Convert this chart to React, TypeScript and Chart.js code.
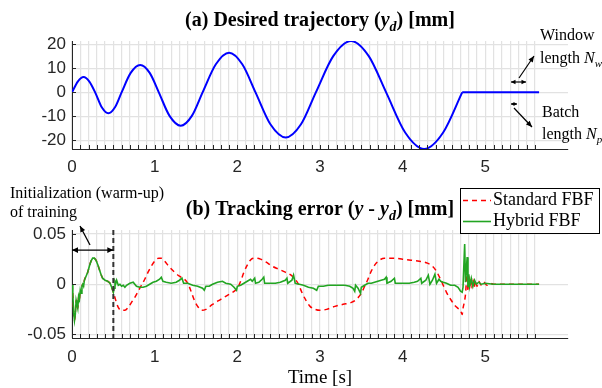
import { useEffect, useRef } from 'react';
import { Chart, registerables } from 'chart.js';
Chart.register(...registerables);

// ---------- data ----------
// (a) desired trajectory [s, mm]
const trajectory: [number, number][] = [
  [0, 0], [0.07, 4.5], [0.14, 6.4], [0.21, 4.5], [0.28, 0],
  [0.36, -6.2], [0.44, -8.7], [0.52, -6.2], [0.6, 0],
  [0.71, 8.1], [0.825, 11.4], [0.94, 8.1], [1.05, 0],
  [1.18, -9.8], [1.315, -13.9], [1.45, -9.8], [1.58, 0],
  [1.74, 11.7], [1.9, 16.5], [2.06, 11.7], [2.22, 0],
  [2.4, -13.3], [2.585, -18.8], [2.77, -13.3], [2.95, 0],
  [3.16, 15.1], [3.375, 21.4], [3.59, 15.1], [3.8, 0],
  [4.03, -16.7], [4.26, -23.6], [4.49, -16.7], [4.72, 0],
];
const plateau: [number, number][] = [[4.72, 0], [5.65, 0]];

// (b) tracking error [s, mm]; warm-up part shared by both methods
const warmupErr: [number, number][] = [
  [0, 0], [0.01, -0.01], [0.02, -0.028], [0.03, -0.036], [0.04, -0.03], [0.05, -0.016],
  [0.06, -0.02], [0.07, -0.024], [0.08, -0.012], [0.09, -0.015], [0.1, -0.006], [0.11, -0.009],
  [0.12, -0.002], [0.13, 0], [0.14, -0.002], [0.15, 0.004], [0.17, 0.008], [0.19, 0.012],
  [0.21, 0.018], [0.23, 0.023], [0.25, 0.026], [0.27, 0.026], [0.29, 0.024], [0.31, 0.02],
  [0.33, 0.015], [0.35, 0.01], [0.37, 0.006], [0.4, 0.004], [0.43, 0.003], [0.46, 0.001],
  [0.48, -0.003], [0.5, -0.008],
];
const standardErr: [number, number][] = [
  [0.56, -0.023], [0.6, -0.026], [0.64, -0.026], [0.68, -0.023], [0.72, -0.018], [0.76, -0.013],
  [0.8, -0.007], [0.84, -0.001], [0.88, 0.005], [0.92, 0.012], [0.96, 0.018], [1.0, 0.023],
  [1.05, 0.026], [1.08, 0.026], [1.12, 0.023], [1.18, 0.017], [1.24, 0.012], [1.3, 0.008],
  [1.36, 0.005], [1.4, 0.001], [1.44, -0.007], [1.48, -0.016], [1.52, -0.022], [1.57, -0.026],
  [1.62, -0.025], [1.7, -0.02], [1.8, -0.015], [1.88, -0.011], [1.96, -0.007], [2.0, -0.004],
  [2.04, 0.003], [2.08, 0.012], [2.12, 0.019], [2.17, 0.025], [2.22, 0.026], [2.28, 0.025],
  [2.35, 0.022], [2.42, 0.018], [2.5, 0.015], [2.58, 0.012], [2.65, 0.009], [2.7, 0.005],
  [2.74, 0], [2.78, -0.008], [2.83, -0.016], [2.88, -0.022], [2.94, -0.025], [3.0, -0.026],
  [3.08, -0.025], [3.18, -0.022], [3.28, -0.02], [3.38, -0.018], [3.44, -0.015], [3.5, -0.009],
  [3.54, -0.002], [3.58, 0.005], [3.62, 0.013], [3.67, 0.02], [3.72, 0.024], [3.78, 0.026],
  [3.9, 0.026], [4.0, 0.025], [4.1, 0.024], [4.2, 0.023], [4.3, 0.021], [4.36, 0.018],
  [4.4, 0.014], [4.44, 0.008], [4.48, 0.001], [4.53, -0.008], [4.58, -0.015], [4.63, -0.021],
  [4.67, -0.024], [4.7, -0.026], [4.72, -0.03], [4.73, -0.024], [4.745, -0.018], [4.76, -0.01],
  [4.77, 0.002], [4.78, 0.01], [4.79, -0.006], [4.8, 0.008], [4.81, -0.005], [4.82, 0.006],
  [4.835, -0.004], [4.85, 0.005], [4.865, -0.003], [4.88, 0.004], [4.9, -0.002], [4.92, 0.003],
  [4.95, -0.001], [4.98, 0.002], [5.02, -0.001], [5.06, 0.001], [5.1, 0], [5.65, 0],
];
const hybridErr: [number, number][] = [
  [0.51, -0.004], [0.52, 0.003], [0.53, 0.001], [0.54, 0.004], [0.56, -0.001], [0.58, 0],
  [0.6, -0.002], [0.62, -0.001], [0.64, -0.003], [0.66, -0.001], [0.7, 0.001], [0.74, 0.002],
  [0.78, -0.002], [0.82, -0.003], [0.86, -0.003], [0.9, -0.002], [0.94, 0], [0.98, 0.002],
  [1.02, 0.003], [1.06, 0.005], [1.08, 0.007], [1.1, 0.003], [1.14, 0.002], [1.2, 0.001],
  [1.26, 0.002], [1.3, 0.004], [1.33, 0.006], [1.35, 0.001], [1.4, 0.001], [1.46, -0.001],
  [1.52, -0.002], [1.58, -0.004], [1.6, -0.006], [1.62, -0.002], [1.66, -0.002], [1.7, 0],
  [1.76, 0.002], [1.82, 0.003], [1.86, 0.001], [1.92, 0], [1.96, -0.003], [1.99, -0.006],
  [2.0, -0.002], [2.04, -0.001], [2.08, 0.001], [2.12, 0.003], [2.16, 0.005], [2.18, 0.003],
  [2.21, 0.006], [2.22, 0.001], [2.26, 0.002], [2.3, 0.005], [2.32, 0.007], [2.33, 0.001],
  [2.4, 0.001], [2.46, 0.001], [2.52, 0.002], [2.58, 0.004], [2.6, 0.006], [2.61, 0.001],
  [2.66, 0.004], [2.68, 0.009], [2.7, 0.001], [2.75, 0], [2.8, -0.001], [2.86, -0.003],
  [2.92, -0.004], [2.96, -0.006], [2.98, -0.002], [3.04, -0.002], [3.1, -0.001], [3.18, -0.001],
  [3.24, -0.001], [3.3, -0.001], [3.36, -0.002], [3.4, -0.004], [3.42, -0.007], [3.43, -0.001],
  [3.46, -0.004], [3.49, -0.009], [3.5, -0.003], [3.54, -0.001], [3.58, 0.001], [3.62, 0.001],
  [3.66, 0.002], [3.7, 0.003], [3.74, 0.004], [3.78, 0.005], [3.8, 0.007], [3.81, 0.001],
  [3.86, 0.003], [3.9, 0.006], [3.91, 0.001], [3.96, 0.001], [4.02, 0.001], [4.08, 0.001],
  [4.14, 0.002], [4.18, 0.003], [4.22, 0.006], [4.23, 0.001], [4.28, 0.004], [4.31, 0.009],
  [4.33, 0], [4.36, 0.004], [4.39, 0.01], [4.41, 0.001], [4.44, 0.005], [4.46, 0.003],
  [4.49, 0.002], [4.53, 0.001], [4.58, -0.001], [4.63, -0.001], [4.67, -0.003], [4.7, -0.007],
  [4.72, -0.008], [4.73, -0.003], [4.75, 0.04], [4.76, 0.002], [4.78, 0.027], [4.79, -0.003],
  [4.8, 0.01], [4.81, -0.002], [4.83, 0.006], [4.85, -0.002], [4.87, 0.004], [4.89, 0],
  [4.92, 0.002], [4.95, 0], [5.0, 0.001], [5.1, 0], [5.2, 0], [5.3, 0], [5.4, 0], [5.5, 0], [5.65, 0],
];

const seriesLabels = ['Standard FBF', 'Hybrid FBF'];
const xLabelValues = [0, 1, 2, 3, 4, 5];
const topYTicks = [-20, -10, 0, 10, 20];
const bottomYTicks = [-0.05, 0, 0.05];
const bottomYLabels = ['-0.05', '0', '0.05'];
const gridCount = 56; // vertical grid every 0.1 s up to 5.6 s
const warmupEnd = 0.5;

// ---------- style ----------
const SANS = '"Liberation Sans", Arial, sans-serif';
const SERIF = '"Liberation Serif", "Times New Roman", serif';
const AXIS = '#262626';
const GRID = '#e2e2e2';
const gridTicks: number[] = [];
for (let i = 0; i <= gridCount; i++) gridTicks.push(i / 10);

type Seg = { t: string; f: string; dy?: number };
function drawSegs(ctx: CanvasRenderingContext2D, segs: Seg[], x: number, y: number, center: boolean) {
  let w = 0;
  for (const s of segs) { ctx.font = s.f; w += ctx.measureText(s.t).width; }
  let cx = center ? x - w / 2 : x;
  ctx.textAlign = 'left';
  ctx.textBaseline = 'alphabetic';
  for (const s of segs) {
    ctx.font = s.f;
    ctx.fillText(s.t, cx, y + (s.dy || 0));
    cx += ctx.measureText(s.t).width;
  }
}
function head(ctx: CanvasRenderingContext2D, x1: number, y1: number, x2: number, y2: number, len = 6, w = 2.8) {
  const a = Math.atan2(y2 - y1, x2 - x1);
  ctx.beginPath();
  ctx.moveTo(x2, y2);
  ctx.lineTo(x2 - len * Math.cos(a) + w * Math.sin(a), y2 - len * Math.sin(a) - w * Math.cos(a));
  ctx.lineTo(x2 - len * Math.cos(a) - w * Math.sin(a), y2 - len * Math.sin(a) + w * Math.cos(a));
  ctx.closePath();
  ctx.fill();
}
function arrow(ctx: CanvasRenderingContext2D, x1: number, y1: number, x2: number, y2: number, both: boolean, len = 6, w = 2.8) {
  ctx.beginPath();
  ctx.moveTo(x1, y1);
  ctx.lineTo(x2, y2);
  ctx.stroke();
  head(ctx, x1, y1, x2, y2, len, w);
  if (both) head(ctx, x2, y2, x1, y1, len, w);
}
function innerTicks(chart: any, yTicks: number[]) {
  const ctx = chart.ctx as CanvasRenderingContext2D;
  const { left, bottom } = chart.chartArea;
  const xs = chart.scales.x, ys = chart.scales.y;
  ctx.save();
  ctx.strokeStyle = AXIS;
  ctx.lineWidth = 1;
  ctx.beginPath();
  for (const t of gridTicks) {
    const px = Math.round(xs.getPixelForValue(t)) + 0.5;
    ctx.moveTo(px, bottom);
    ctx.lineTo(px, bottom - 4);
  }
  for (const v of yTicks) {
    const py = Math.round(ys.getPixelForValue(v)) + 0.5;
    ctx.moveTo(left, py);
    ctx.lineTo(left + 4, py);
  }
  ctx.stroke();
  ctx.restore();
}

function xScale(height: number, pad: number) {
  return {
    type: 'linear' as const,
    min: 0,
    max: 6,
    afterBuildTicks: (s: any) => { s.ticks = gridTicks.map((v) => ({ value: v })); },
    afterFit: (s: any) => { s.height = height; },
    ticks: {
      autoSkip: false,
      maxRotation: 0,
      padding: pad,
      color: AXIS,
      font: { family: SANS, size: 17 },
      callback: (v: any) => (xLabelValues.includes(Number(v)) ? String(v) : ''),
    },
    grid: { color: GRID, lineWidth: 1.2, drawTicks: false },
    border: { color: AXIS, width: 1 },
  };
}

export default function App() {
  const c1 = useRef<HTMLCanvasElement>(null);
  const c2 = useRef<HTMLCanvasElement>(null);

  useEffect(() => {
    const toXY = (arr: [number, number][]) => arr.map(([x, y]) => ({ x, y }));

    const topPlugin = {
      id: 'topDecor',
      afterDraw(chart: any) {
        innerTicks(chart, topYTicks);
        const ctx = chart.ctx as CanvasRenderingContext2D;
        const { left, right } = chart.chartArea;
        ctx.save();
        ctx.fillStyle = '#000';
        ctx.strokeStyle = '#000';
        drawSegs(ctx, [
          { t: '(a) Desired trajectory (', f: `bold 20px ${SERIF}` },
          { t: 'y', f: `italic bold 20px ${SERIF}` },
          { t: 'd', f: `italic bold 14px ${SERIF}`, dy: 5 },
          { t: ') [mm]', f: `bold 20px ${SERIF}` },
        ], (left + right) / 2, 26, true);
        drawSegs(ctx, [{ t: 'Window', f: `16px ${SERIF}` }], 540, 40, false);
        drawSegs(ctx, [
          { t: 'length ', f: `16px ${SERIF}` },
          { t: 'N', f: `italic 16px ${SERIF}` },
          { t: 'w', f: `italic 11px ${SERIF}`, dy: 4 },
        ], 540, 63, false);
        drawSegs(ctx, [{ t: 'Batch', f: `16px ${SERIF}` }], 542, 117, false);
        drawSegs(ctx, [
          { t: 'length ', f: `16px ${SERIF}` },
          { t: 'N', f: `italic 16px ${SERIF}` },
          { t: 'p', f: `italic 11px ${SERIF}`, dy: 4 },
        ], 542, 139, false);
        ctx.lineWidth = 1.2;
        arrow(ctx, 511, 82, 526, 82, true, 4.5, 2.2);
        arrow(ctx, 519, 78, 534, 56, false, 6, 2.6);
        arrow(ctx, 511, 104, 517, 104, true, 3, 1.8);
        arrow(ctx, 514, 108, 532, 127, false, 6, 2.6);
        ctx.restore();
      },
    };

    const chart1 = new Chart(c1.current as HTMLCanvasElement, {
      type: 'line',
      data: {
        datasets: [
          { data: toXY(trajectory), borderColor: '#0000ff', borderWidth: 2, pointRadius: 0, cubicInterpolationMode: 'monotone', fill: false },
          { data: toXY(plateau), borderColor: '#0000ff', borderWidth: 2, pointRadius: 0, tension: 0, fill: false },
        ],
      } as any,
      options: {
        responsive: false,
        animation: false,
        layout: { padding: { left: 0, right: 34, top: 41, bottom: 0 } },
        plugins: { legend: { display: false }, tooltip: { enabled: false }, title: { display: false } },
        scales: {
          x: xScale(31, 8) as any,
          y: {
            min: -23.6,
            max: 21.4,
            afterBuildTicks: (s: any) => { s.ticks = topYTicks.map((v) => ({ value: v })); },
            afterFit: (s: any) => { s.width = 72; },
            ticks: { padding: 6, color: AXIS, font: { family: SANS, size: 17 }, callback: (v: any) => String(v) },
            grid: { color: GRID, lineWidth: 1.2, drawTicks: false },
            border: { color: AXIS, width: 1 },
          },
        },
      },
      plugins: [topPlugin],
    });

    const bottomPlugin = {
      id: 'bottomDecor',
      afterDraw(chart: any) {
        innerTicks(chart, bottomYTicks);
        const ctx = chart.ctx as CanvasRenderingContext2D;
        const { left, right, top, bottom } = chart.chartArea;
        const xs = chart.scales.x, ys = chart.scales.y;
        ctx.save();
        // warm-up boundary
        const xw = xs.getPixelForValue(warmupEnd);
        ctx.strokeStyle = '#333';
        ctx.lineWidth = 2;
        ctx.setLineDash([5, 3]);
        ctx.beginPath();
        ctx.moveTo(xw, top);
        ctx.lineTo(xw, bottom);
        ctx.stroke();
        ctx.setLineDash([]);
        ctx.fillStyle = '#000';
        ctx.strokeStyle = '#000';
        ctx.lineWidth = 1.3;
        const ya = ys.getPixelForValue(0.034);
        arrow(ctx, xs.getPixelForValue(0), ya, xw, ya, true, 6, 2.8);
        arrow(ctx, 90, 65, 80, 46, false, 6, 2.6);
        // texts
        drawSegs(ctx, [{ t: 'Initialization (warm-up)', f: `16px ${SERIF}` }], 10, 18, false);
        drawSegs(ctx, [{ t: 'of training', f: `16px ${SERIF}` }], 10, 36.5, false);
        drawSegs(ctx, [
          { t: '(b) Tracking error (', f: `bold 20px ${SERIF}` },
          { t: 'y', f: `italic bold 20px ${SERIF}` },
          { t: ' - ', f: `bold 20px ${SERIF}` },
          { t: 'y', f: `italic bold 20px ${SERIF}` },
          { t: 'd', f: `italic bold 14px ${SERIF}`, dy: 5 },
          { t: ') [mm]', f: `bold 20px ${SERIF}` },
        ], (left + right) / 2, 35, true);
        drawSegs(ctx, [{ t: 'Time [s]', f: `19px ${SERIF}` }], (left + right) / 2, 203, true);
        // legend
        ctx.fillStyle = '#fff';
        ctx.fillRect(460.5, 8.5, 139, 45);
        ctx.strokeStyle = '#000';
        ctx.lineWidth = 1;
        ctx.strokeRect(460.5, 8.5, 139, 45);
        const ds = chart.data.datasets;
        const rows = [20.5, 41.5];
        ds.forEach((d: any, i: number) => {
          ctx.strokeStyle = d.borderColor;
          ctx.lineWidth = d.borderWidth;
          ctx.setLineDash(d.borderDash || []);
          ctx.beginPath();
          ctx.moveTo(463, rows[i]);
          ctx.lineTo(491, rows[i]);
          ctx.stroke();
          ctx.setLineDash([]);
          ctx.fillStyle = '#000';
          ctx.font = `18px ${SERIF}`;
          ctx.textAlign = 'left';
          ctx.textBaseline = 'middle';
          ctx.fillText(d.label, 493, rows[i]);
        });
        ctx.restore();
      },
    };

    const chart2 = new Chart(c2.current as HTMLCanvasElement, {
      type: 'line',
      data: {
        datasets: [
          {
            label: seriesLabels[0],
            data: toXY(warmupErr.concat(standardErr)),
            borderColor: '#ff0000',
            borderWidth: 1.5,
            borderDash: [5, 4],
            pointRadius: 0,
            cubicInterpolationMode: 'monotone',
            fill: false,
            order: 2,
          },
          {
            label: seriesLabels[1],
            data: toXY(warmupErr.concat(hybridErr)),
            borderColor: '#22a522',
            borderWidth: 1.6,
            pointRadius: 0,
            tension: 0,
            fill: false,
            order: 1,
          },
        ],
      } as any,
      options: {
        responsive: false,
        animation: false,
        layout: { padding: { left: 0, right: 34, top: 50, bottom: 0 } },
        plugins: { legend: { display: false }, tooltip: { enabled: false }, title: { display: false } },
        scales: {
          x: xScale(50, 9) as any,
          y: {
            min: -0.0535,
            max: 0.054,
            afterBuildTicks: (s: any) => { s.ticks = bottomYTicks.map((v) => ({ value: v })); },
            afterFit: (s: any) => { s.width = 72; },
            ticks: {
              padding: 6,
              color: AXIS,
              font: { family: SANS, size: 17 },
              callback: (v: any) => bottomYLabels[bottomYTicks.indexOf(Number(v))] ?? String(v),
            },
            grid: { color: GRID, lineWidth: 1.2, drawTicks: false },
            border: { color: AXIS, width: 1 },
          },
        },
      },
      plugins: [bottomPlugin],
    });

    return () => {
      chart1.destroy();
      chart2.destroy();
    };
  }, []);

  return (
    <div style={{ position: 'absolute', left: 0, top: 0, width: 602, height: 388, background: '#fff' }}>
      <canvas ref={c1} width={602} height={180} style={{ position: 'absolute', left: 0, top: 0 }} />
      <canvas ref={c2} width={602} height={208} style={{ position: 'absolute', left: 0, top: 180 }} />
    </div>
  );
}
